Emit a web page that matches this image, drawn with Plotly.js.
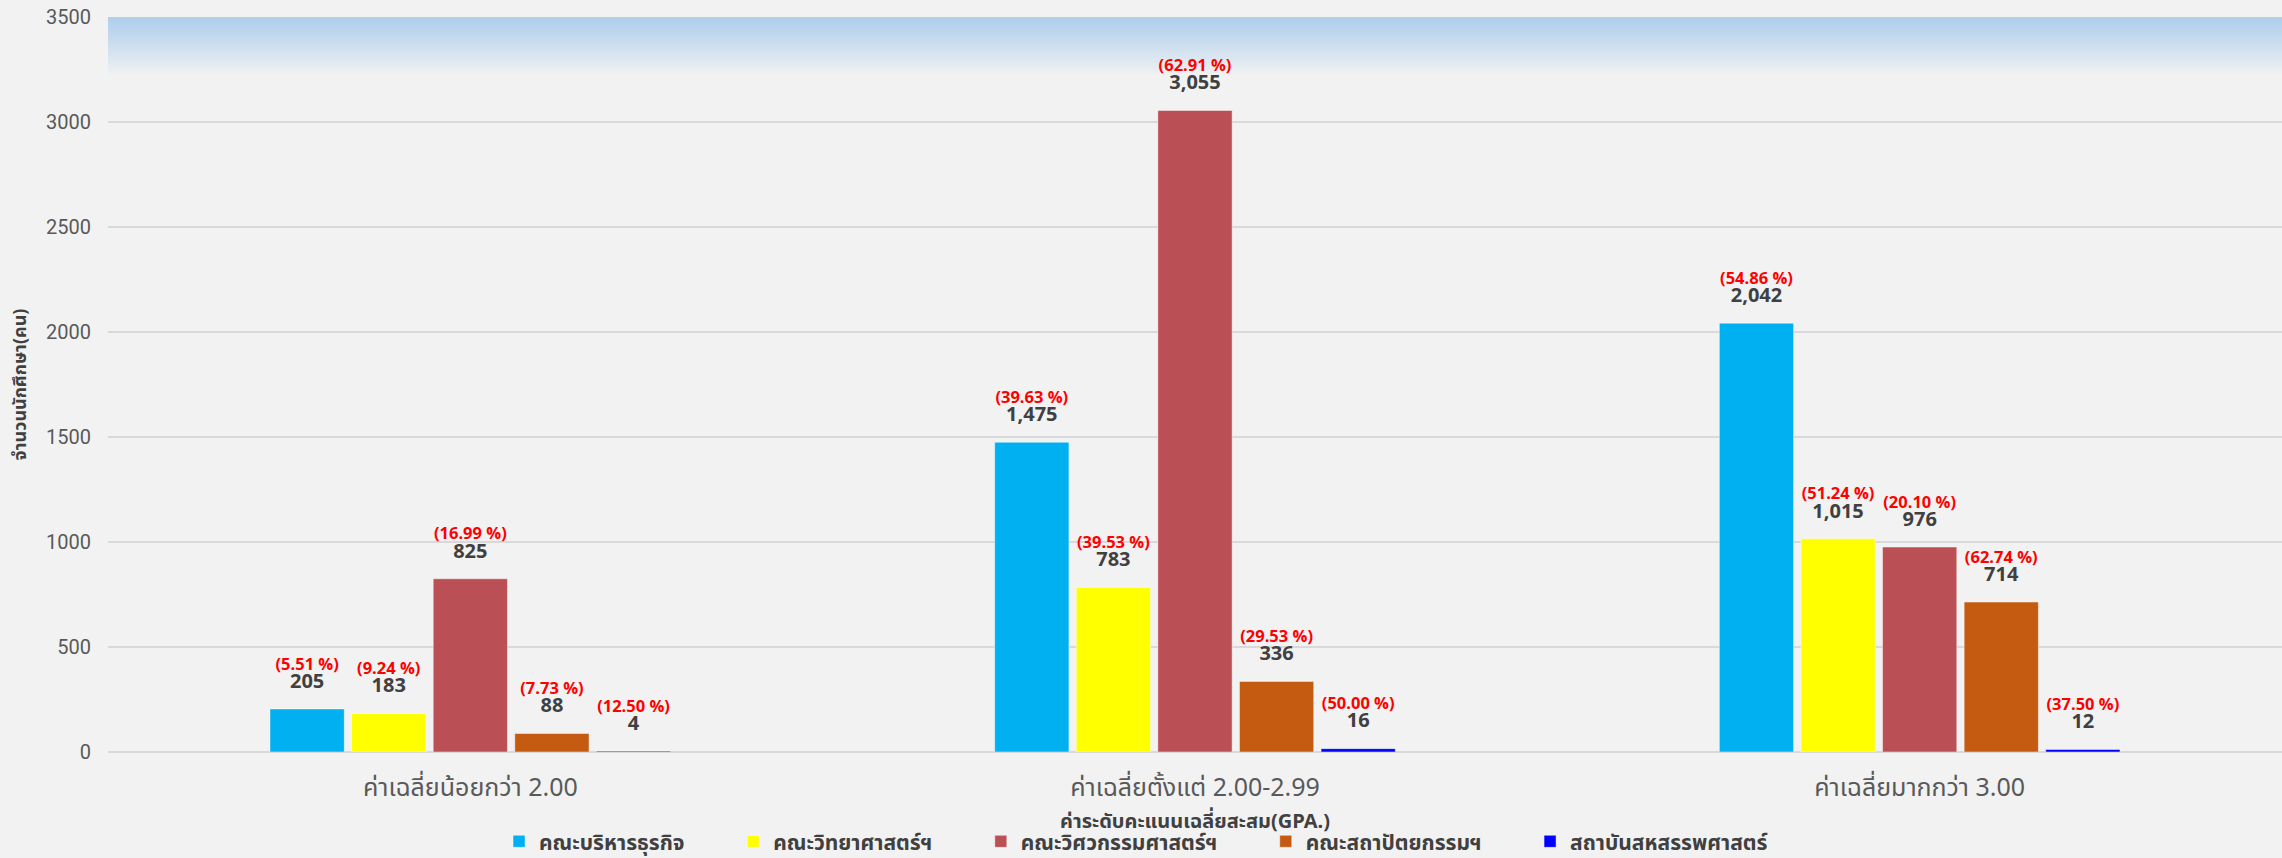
<!DOCTYPE html>
<html>
<head>
<meta charset="utf-8">
<script src="https://cdn.plot.ly/plotly-3.0.1.min.js"></script>
<style>
  html, body { margin: 0; padding: 0; background: #f2f2f2; }
  #chart { width: 2282px; height: 858px; }
</style>
</head>
<body>
<div id="chart"></div>
<script>
// ---- data ----
const categories = ["ค่าเฉลี่ยน้อยกว่า 2.00", "ค่าเฉลี่ยตั้งแต่ 2.00-2.99", "ค่าเฉลี่ยมากกว่า 3.00"];
const seriesNames = ["คณะบริหารธุรกิจ", "คณะวิทยาศาสตร์ฯ", "คณะวิศวกรรมศาสตร์ฯ", "คณะสถาปัตยกรรมฯ", "สถาบันสหสรรพศาสตร์"];
const businessValues = [205, 1475, 2042];
const scienceValues = [183, 783, 1015];
const engineeringValues = [825, 3055, 976];
const architectureValues = [88, 336, 714];
const liberalArtsValues = [4, 16, 12];
const businessPct = ["5.51", "39.63", "54.86"];
const sciencePct = ["9.24", "39.53", "51.24"];
const engineeringPct = ["16.99", "62.91", "20.10"];
const architecturePct = ["7.73", "29.53", "62.74"];
const liberalArtsPct = ["12.50", "50.00", "37.50"];
const yTickValues = [0, 500, 1000, 1500, 2000, 2500, 3000, 3500];

// ---- styles ----
const colors = ["#00b0f0", "#ffff00", "#bb4f56", "#c55a11", "#0000ff"];
const thaiFont = "'Noto Sans Thai', 'Noto Sans', 'Open Sans', sans-serif";
const numFont = "'Open Sans', 'Noto Sans', sans-serif";
const legendPad = '\u00a0'.repeat(8);

const valueSets = [businessValues, scienceValues, engineeringValues, architectureValues, liberalArtsValues];
const pctSets = [businessPct, sciencePct, engineeringPct, architecturePct, liberalArtsPct];

function labelText(v, p) {
  return '<span style="color:#ff0000;font-size:16.5px">(' + p + ' %)</span><br>' +
         '<span style="font-size:20px">' + v.toLocaleString('en-US') + '</span><br>' +
         '<span style="font-size:1px">\u00a0</span>';
}

const traces = seriesNames.map((name, i) => ({
  type: 'bar',
  name: name + legendPad,
  x: categories,
  y: valueSets[i],
  text: valueSets[i].map((v, j) => labelText(v, pctSets[i][j])),
  textposition: 'outside',
  textangle: 0,
  constraintext: 'none',
  cliponaxis: false,
  textfont: { family: numFont, size: 14, color: '#404040', weight: 700 },
  marker: { color: colors[i], line: { color: 'rgba(255,255,255,0.45)', width: 1 } },
  hoverinfo: 'x+y+name'
}));

// top gradient band (decoration)
const shapes = [];
const strips = 30;
const bandHeight = 60 / 735;
const gradTop = [176, 207, 236], gradBottom = [242, 242, 242];
for (let k = 0; k < strips; k++) {
  const t = k / (strips - 1);
  const c = gradTop.map((a, idx) => Math.round(a + (gradBottom[idx] - a) * Math.pow(t, 1.1)));
  shapes.push({
    type: 'rect', xref: 'paper', yref: 'paper', layer: 'below',
    x0: 0, x1: 1,
    y1: 1 - k * bandHeight / strips, y0: 1 - (k + 1) * bandHeight / strips - 0.0005,
    fillcolor: 'rgb(' + c.join(',') + ')', line: { width: 0 }
  });
}

const layout = {
  width: 2282,
  height: 858,
  paper_bgcolor: '#f2f2f2',
  plot_bgcolor: '#f2f2f2',
  margin: { l: 108, r: 0, t: 17, b: 106, autoexpand: false },
  barmode: 'group',
  bargap: 0.437,
  bargroupgap: 0.09,
  showlegend: true,
  shapes: shapes,
  font: { family: thaiFont, color: '#404040' },
  xaxis: {
    type: 'category',
    range: [-0.5, 2.5],
    showgrid: false,
    zeroline: false,
    showline: false,
    ticks: '',
    tickfont: { family: thaiFont, size: 25, color: '#595959' },
    ticklabelstandoff: 18,
    title: { text: 'ค่าระดับคะแนนเฉลี่ยสะสม(GPA.)', font: { family: thaiFont, size: 20, color: '#404040', weight: 700 }, standoff: 0 }
  },
  yaxis: {
    range: [0, 3500],
    tickvals: yTickValues,
    ticktext: yTickValues.map(String),
    showgrid: true,
    gridcolor: '#d9d9d9',
    gridwidth: 2,
    zeroline: true,
    zerolinecolor: '#d9d9d9',
    zerolinewidth: 2,
    showline: false,
    ticks: '',
    ticklabelstandoff: 16,
    tickfont: { family: "Roboto, 'Liberation Sans', sans-serif", size: 20, color: '#595959' },
    title: { text: 'จำนวนนักศึกษา(คน)', font: { family: thaiFont, size: 18, color: '#404040', weight: 700 }, standoff: 14 }
  },
  legend: {
    orientation: 'h',
    x: 0.483,
    xanchor: 'center',
    y: -0.122,
    yanchor: 'middle',
    font: { family: thaiFont, size: 21, color: '#404040', weight: 700 },
    itemwidth: 30,
    tracegroupgap: 0,
    bgcolor: 'rgba(0,0,0,0)'
  }
};

Plotly.newPlot('chart', traces, layout, { displayModeBar: false, responsive: false });
</script>
</body>
</html>
